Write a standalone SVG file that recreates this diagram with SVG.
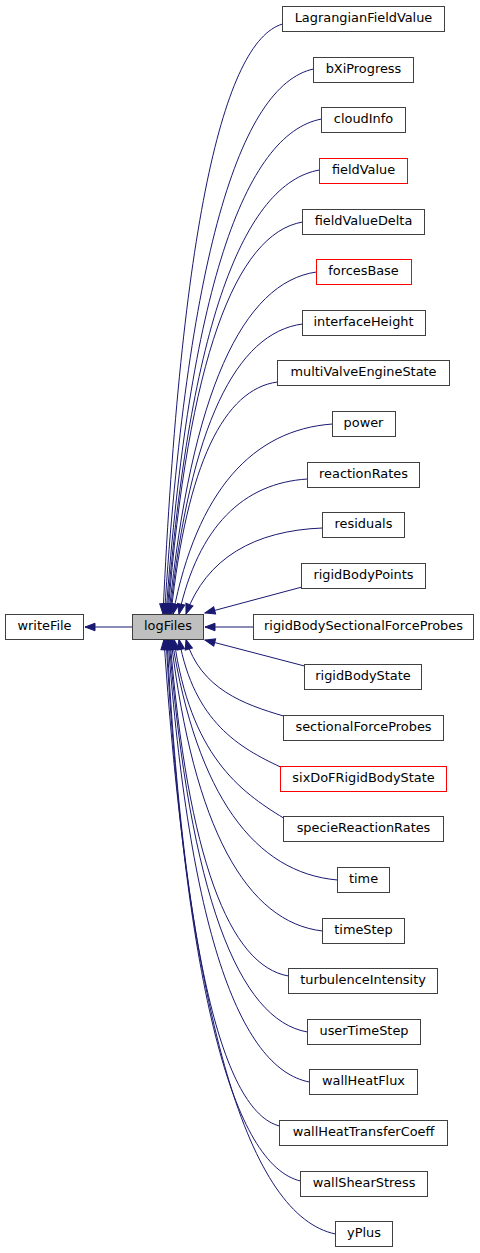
<svg xmlns="http://www.w3.org/2000/svg" width="480" height="1253" viewBox="0 0 480 1253">
<style>
.n rect{fill:#ffffff;stroke:#404040;stroke-width:1}
.n.r rect{stroke:#ff0000}
.n.c rect{fill:#bfbfbf}
.n text{font-family:"DejaVu Sans",sans-serif;font-size:12.9px;fill:#000000;text-anchor:middle}
.e path{fill:none;stroke:#191970;stroke-width:1;marker-end:url(#ah)}
</style>
<defs>
<marker id="ah" markerUnits="userSpaceOnUse" markerWidth="12" markerHeight="9" refX="10" refY="3.75" orient="auto" overflow="visible">
<path d="M0,0 L10,3.75 L0,7.5 z" fill="#191970" stroke="#191970" stroke-width="1"/>
</marker>
</defs>
<rect x="0" y="0" width="480" height="1253" fill="#ffffff"/>
<g id="edges" class="e">
<path d="M132,627 L85,627"/>
<path d="M282.5,24 C222.8,41.7 180.9,230.5 163,614"/>
<path d="M313.5,69 C239,85.4 186.9,259.8 164.5,614"/>
<path d="M321.5,119 C243.8,133.9 189.3,292.3 166,614"/>
<path d="M319.5,170 C243.3,183.3 189.9,325.4 167,614"/>
<path d="M302.5,222 C235.3,233.8 188.2,359.2 168,614"/>
<path d="M316.5,272 C242.8,282.3 191.1,391.7 169,614"/>
<path d="M302.5,324 C236.3,332.7 189.9,425.5 170,614"/>
<path d="M277.5,382 C224.3,389 187,463.2 171,614"/>
<path d="M332.5,424 C252.8,429.7 196.9,490.5 173,614"/>
<path d="M307.5,479 C243.3,483 198.3,526.3 179,614"/>
<path d="M322.5,528 C254.3,530.6 206.5,558.1 186,614"/>
<path d="M302,587 L205,613"/>
<path d="M253.5,627 L205,627"/>
<path d="M304.5,666 L205,640"/>
<path d="M283.5,716 C244.5,704.5 200.6,689.2 186,639.5"/>
<path d="M280.5,767 C239.9,747.9 194.2,722.4 179,639.5"/>
<path d="M283.5,818 C239.7,791.2 190.4,755.5 174,639.5"/>
<path d="M337.5,880 C254.8,872.8 196.8,795.8 172,639.5"/>
<path d="M322.5,931 C246.8,922.3 193.7,829 171,639.5"/>
<path d="M288.5,976 C229.3,965.9 187.8,858.2 170,639.5"/>
<path d="M307.5,1032 C238.3,1020.2 189.8,894.6 169,639.5"/>
<path d="M309.5,1082 C238.8,1068.7 189.2,927.1 168,639.5"/>
<path d="M279.5,1126 C223.3,1111.4 183.9,955.7 167,639.5"/>
<path d="M300.5,1181 C233.3,1164.8 186.2,991.5 166,639.5"/>
<path d="M335.5,1234 C249.8,1216.2 189.7,1025.9 164,639.5"/>
</g>
<g id="writeFile" class="n"><rect x="5.5" y="614.5" width="78" height="25"/><text x="44.5" y="630">writeFile</text></g>
<g id="logFiles" class="n c"><rect x="132.5" y="614.5" width="71" height="25"/><text x="168" y="630">logFiles</text></g>
<g id="LagrangianFieldValue" class="n"><rect x="282.5" y="6.5" width="162" height="25"/><text x="363.5" y="22">LagrangianFieldValue</text></g>
<g id="bXiProgress" class="n"><rect x="313.5" y="57.5" width="100" height="25"/><text x="363.5" y="73">bXiProgress</text></g>
<g id="cloudInfo" class="n"><rect x="321.5" y="107.5" width="84" height="25"/><text x="363.5" y="123">cloudInfo</text></g>
<g id="fieldValue" class="n r"><rect x="319.5" y="158.5" width="88" height="25"/><text x="363.5" y="174">fieldValue</text></g>
<g id="fieldValueDelta" class="n"><rect x="302.5" y="209.5" width="122" height="25"/><text x="363.5" y="225">fieldValueDelta</text></g>
<g id="forcesBase" class="n r"><rect x="316.5" y="259.5" width="95" height="25"/><text x="363.5" y="275">forcesBase</text></g>
<g id="interfaceHeight" class="n"><rect x="302.5" y="310.5" width="123" height="25"/><text x="363.5" y="326">interfaceHeight</text></g>
<g id="multiValveEngineState" class="n"><rect x="277.5" y="360.5" width="172" height="25"/><text x="363.5" y="376">multiValveEngineState</text></g>
<g id="power" class="n"><rect x="332.5" y="411.5" width="63" height="25"/><text x="363.5" y="427">power</text></g>
<g id="reactionRates" class="n"><rect x="307.5" y="462.5" width="112" height="25"/><text x="363.5" y="478">reactionRates</text></g>
<g id="residuals" class="n"><rect x="322.5" y="512.5" width="82" height="25"/><text x="363.5" y="528">residuals</text></g>
<g id="rigidBodyPoints" class="n"><rect x="301.5" y="563.5" width="124" height="25"/><text x="363.5" y="579">rigidBodyPoints</text></g>
<g id="rigidBodySectionalForceProbes" class="n"><rect x="253.5" y="614.5" width="220" height="25"/><text x="363.5" y="630">rigidBodySectionalForceProbes</text></g>
<g id="rigidBodyState" class="n"><rect x="304.5" y="664.5" width="117" height="25"/><text x="363" y="680">rigidBodyState</text></g>
<g id="sectionalForceProbes" class="n"><rect x="283.5" y="715.5" width="160" height="25"/><text x="363.5" y="731">sectionalForceProbes</text></g>
<g id="sixDoFRigidBodyState" class="n r"><rect x="280.5" y="766.5" width="166" height="25"/><text x="363.5" y="782">sixDoFRigidBodyState</text></g>
<g id="specieReactionRates" class="n"><rect x="283.5" y="816.5" width="160" height="25"/><text x="363.5" y="832">specieReactionRates</text></g>
<g id="time" class="n"><rect x="337.5" y="867.5" width="52" height="25"/><text x="363.5" y="883">time</text></g>
<g id="timeStep" class="n"><rect x="322.5" y="918.5" width="82" height="25"/><text x="363.5" y="934">timeStep</text></g>
<g id="turbulenceIntensity" class="n"><rect x="288.5" y="968.5" width="149" height="25"/><text x="363" y="984">turbulenceIntensity</text></g>
<g id="userTimeStep" class="n"><rect x="307.5" y="1019.5" width="113" height="25"/><text x="364" y="1035">userTimeStep</text></g>
<g id="wallHeatFlux" class="n"><rect x="309.5" y="1069.5" width="108" height="25"/><text x="363.5" y="1085">wallHeatFlux</text></g>
<g id="wallHeatTransferCoeff" class="n"><rect x="279.5" y="1120.5" width="168" height="25"/><text x="363.5" y="1136">wallHeatTransferCoeff</text></g>
<g id="wallShearStress" class="n"><rect x="300.5" y="1171.5" width="127" height="25"/><text x="364" y="1187">wallShearStress</text></g>
<g id="yPlus" class="n"><rect x="335.5" y="1221.5" width="57" height="25"/><text x="364" y="1237">yPlus</text></g>
</svg>
